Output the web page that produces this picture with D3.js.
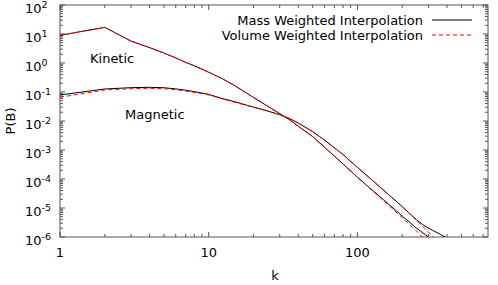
<!DOCTYPE html>
<html>
<head>
<meta charset="utf-8">
<script src="https://cdn.jsdelivr.net/npm/d3@7.9.0/dist/d3.min.js"></script>
<style>
  body { margin: 0; background: #fff; }
  svg text { font-family: "DejaVu Sans", sans-serif; font-size: 13px; fill: #000; }
</style>
</head>
<body>
<svg id="chart" width="498" height="285"></svg>
<script>
// wavenumbers and spectra
const kinK        = [1, 2, 3, 4, 5, 6, 7, 8, 10, 12, 15, 20, 25, 30, 35, 40, 50, 60, 80, 100, 120, 150, 200, 250, 300];
const kinMass     = [9, 17, 5.7, 3.4, 2.2, 1.5, 1.05, 0.8, 0.48, 0.31, 0.165, 0.065, 0.032, 0.018, 0.011, 0.0066, 0.0029, 0.00126, 3.3e-4, 1.15e-4, 5.1e-5, 1.9e-5, 5.3e-6, 2.0e-6, 1.0e-6];
const kinVolume   = [9, 17, 5.7, 3.4, 2.2, 1.5, 1.05, 0.8, 0.48, 0.31, 0.165, 0.065, 0.032, 0.018, 0.011, 0.0066, 0.0029, 0.00126, 3.3e-4, 1.15e-4, 4.9e-5, 1.8e-5, 4.6e-6, 1.6e-6, 6e-7];

const magKMass    = [1, 2, 3, 4, 5, 6, 7, 8, 10, 12, 15, 20, 25, 30, 35, 40, 50, 60, 80, 100, 120, 150, 200, 250, 280, 320, 360, 400];
const magMass     = [0.079, 0.127, 0.141, 0.145, 0.14, 0.128, 0.115, 0.103, 0.083, 0.062, 0.046, 0.03, 0.022, 0.0165, 0.0121, 0.0085, 0.0043, 0.0022, 7.0e-4, 2.5e-4, 1.12e-4, 4.1e-5, 1.12e-5, 3.9e-6, 2.5e-6, 1.7e-6, 1.25e-6, 9e-7];
const magKVolume  = [1, 2, 3, 4, 5, 6, 7, 8, 10, 12, 15, 20, 25, 30, 35, 40, 50, 60, 80, 100, 120, 150, 200, 250, 300, 330];
const magVolume   = [0.066, 0.117, 0.13, 0.134, 0.13, 0.12, 0.108, 0.097, 0.079, 0.06, 0.044, 0.03, 0.022, 0.0165, 0.0121, 0.0085, 0.0043, 0.0022, 7.0e-4, 2.5e-4, 1.12e-4, 4.1e-5, 1.12e-5, 3.7e-6, 1.5e-6, 9e-7];

const yExponents  = [2, 1, 0, -1, -2, -3, -4, -5, -6];
const xTickLabels = [1, 10, 100];
const legendNames = ["Mass Weighted Interpolation", "Volume Weighted Interpolation"];

const svg = d3.select("#chart");
const plotLeft = 60, plotRight = 488, plotTop = 5, plotBottom = 237;

const x = d3.scaleLog().domain([1, 755]).range([plotLeft, plotRight]);
const y = d3.scaleLog().domain([1e-6, 1e2]).range([plotBottom, plotTop]);

svg.append("defs").append("clipPath").attr("id", "plotclip")
  .append("rect").attr("x", plotLeft).attr("y", plotTop)
  .attr("width", plotRight - plotLeft).attr("height", plotBottom - plotTop);

// ticks, drawn inward on all four sides
const axisColor = "#555";
const g = svg.append("g").attr("stroke", axisColor).attr("stroke-width", 1);

const xTicks = [];
for (let d = 1; d <= 100; d *= 10)
  for (let m = 1; m <= 9; m++) if (d * m <= 755) xTicks.push({ v: d * m, major: m === 1 });
xTicks.forEach(t => {
  const len = t.major ? 5 : 3;
  const px = x(t.v);
  g.append("line").attr("x1", px).attr("x2", px).attr("y1", plotBottom).attr("y2", plotBottom - len);
  g.append("line").attr("x1", px).attr("x2", px).attr("y1", plotTop).attr("y2", plotTop + len);
});

const yTicks = [];
yExponents.forEach(e => {
  for (let m = 1; m <= 9; m++) {
    const v = m * Math.pow(10, e);
    if (v <= 100.0001) yTicks.push({ v: v, major: m === 1 });
  }
});
yTicks.forEach(t => {
  const len = t.major ? 5 : 3;
  const py = y(t.v);
  g.append("line").attr("x1", plotLeft).attr("x2", plotLeft + len).attr("y1", py).attr("y2", py);
  g.append("line").attr("x1", plotRight).attr("x2", plotRight - len).attr("y1", py).attr("y2", py);
});

svg.append("rect").attr("x", plotLeft).attr("y", plotTop)
  .attr("width", plotRight - plotLeft).attr("height", plotBottom - plotTop)
  .attr("fill", "none").attr("stroke", axisColor).attr("stroke-width", 1);

// tick labels
yExponents.forEach(e => {
  const t = svg.append("text").attr("x", 25).attr("y", y(Math.pow(10, e)) + 8);
  t.append("tspan").text("10");
  t.append("tspan").attr("dy", -5).attr("font-size", "9.5px").text(String(e));
});
xTickLabels.forEach(v => {
  svg.append("text").attr("x", x(v)).attr("y", 257)
    .attr("text-anchor", "middle").text(v);
});

svg.append("text").attr("x", 275).attr("y", 280).attr("text-anchor", "middle").text("k");
svg.append("text").attr("transform", "translate(15,121) rotate(-90)")
  .attr("text-anchor", "middle").text("P(B)");

// curves
const line = d3.line().x(d => x(d[0])).y(d => y(d[1]));
const plot = svg.append("g").attr("clip-path", "url(#plotclip)").attr("fill", "none");

const series = [
  { k: kinK, v: kinMass, color: "#000", dash: null },
  { k: magKMass, v: magMass, color: "#000", dash: null },
  { k: kinK, v: kinVolume, color: "#f00", dash: "4,3" },
  { k: magKVolume, v: magVolume, color: "#f00", dash: "4,3" }
];
series.forEach(s => {
  plot.append("path")
    .datum(d3.zip(s.k, s.v))
    .attr("d", line)
    .attr("stroke", s.color)
    .attr("stroke-width", 1)
    .attr("stroke-dasharray", s.dash);
});

// annotations
svg.append("text").attr("x", 90).attr("y", 63).text("Kinetic");
svg.append("text").attr("x", 125).attr("y", 119).text("Magnetic");

// legend
legendNames.forEach((name, i) => {
  const ly = 20 + i * 15;
  svg.append("text").attr("x", 423).attr("y", ly + 4.5).attr("text-anchor", "end").text(name);
  svg.append("line").attr("x1", 432).attr("x2", 472).attr("y1", ly).attr("y2", ly)
    .attr("stroke", i === 0 ? "#000" : "#f00").attr("stroke-width", 1)
    .attr("stroke-dasharray", i === 0 ? null : "4,3");
});
</script>
</body>
</html>
